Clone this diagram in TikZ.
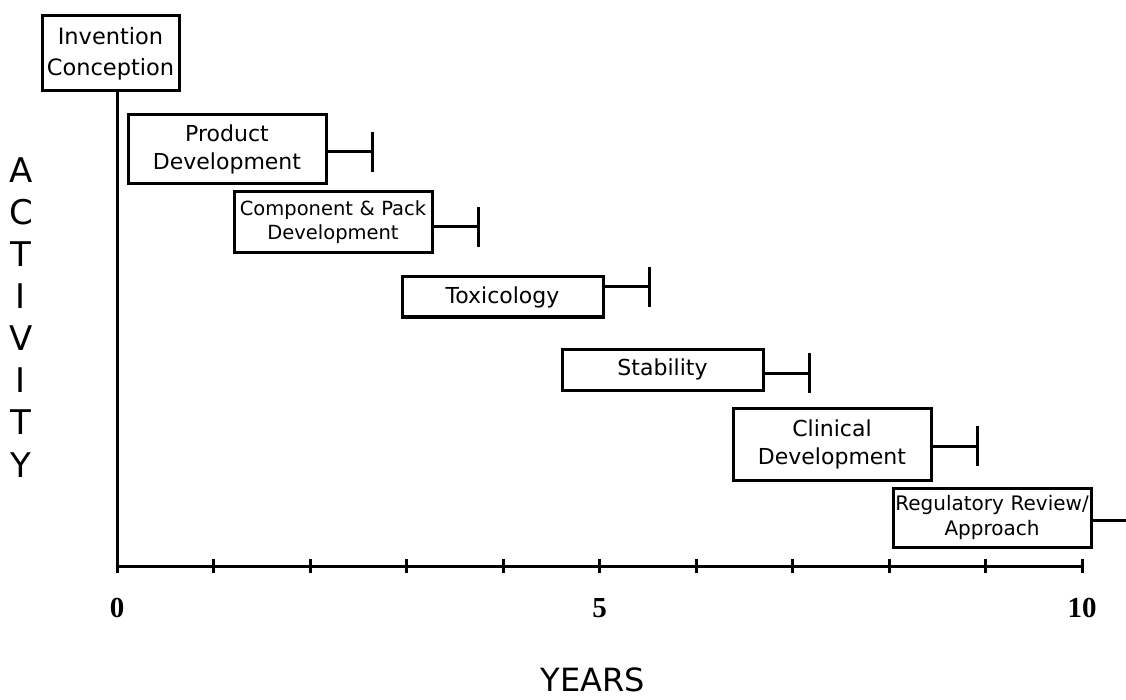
\documentclass[tikz,border=0pt]{standalone}
\usepackage{fontspec}
\setmainfont{DejaVu Sans}
\newfontfamily\numfont{Liberation Serif}
\usepackage{tikz}
\usetikzlibrary{positioning}

\begin{document}
\begin{tikzpicture}[x=1pt,y=-1pt,line width=3pt]
	\tikzset{
		phase/.style={draw,inner sep=0pt,align=center,font=\fontsize{22}{28}\selectfont},
		biglabel/.style={inner sep=0pt,font=\fontsize{34}{40}\selectfont},
		yearnum/.style={inner sep=0pt,font=\numfont\bfseries\fontsize{29}{32}\selectfont}
	}
	\useasboundingbox (0,0) rectangle (1126,700);

	%% phases
	\node[phase,text width=137pt,minimum height=75pt,font=\fontsize{22.5}{31}\selectfont] (inv) at (110.5,53.5) {Invention\\Conception};
	\node[phase,text width=198pt,minimum height=69pt] (prod) at (227,149.5) {Product\\Development};
	\node[phase,text width=198pt,minimum height=61pt,font=\fontsize{19.5}{24}\selectfont] (comp) at (333,222.5) {Component \& Pack\\Development};
	\node[phase,text width=201pt,minimum height=40pt] (tox) at (502.5,297) {Toxicology};
	\node[phase,text width=201pt,minimum height=41pt] (stab) at (662.5,369.5) {Stability};
	\node[phase,text width=198pt,minimum height=72pt] (clin) at (832,444) {Clinical\\Development};
	\node[phase,text width=198pt,minimum height=59pt,font=\fontsize{20}{25}\selectfont] (reg) at (992,517.5) {Regulatory Review/\\Approach};

	%% end bars
	\foreach \n/\dy in {prod/2.5,comp/4.5,tox/-10,stab/3.5,clin/2} {
		\draw ([shift={(0,\dy)}]\n.east) -- ++(44.5,0) coordinate (\n-end);
		\draw (\n-end) +(0,-20) -- +(0,20);
	}
	\draw ([shift={(0,2.5)}]reg.east) -- ++(40,0);

	%% axes
	\coordinate (origin) at (117,566);
	\coordinate (xend) at (1082,566);
	\draw (origin |- inv.south) -- (origin) -- (xend);
	\foreach \k in {0,...,10}
		\draw ([xshift=\k*96.5pt]origin) +(0,-7) -- +(0,7);
	\foreach \k in {0,5,10}
		\node[yearnum] (num\k) at ([shift={(\k*96.5,42)}]origin) {\k};

	%% axis titles
	\foreach \letter [count=\i from 0] in {A,C,T,I,V,I,T,Y}
		\node[biglabel] (act\i) at (21,170+42.1*\i) {\letter};
	\node[biglabel,font=\fontsize{32}{38}\selectfont] (years) at (593,680) {YEARS};
\end{tikzpicture}
\end{document}
